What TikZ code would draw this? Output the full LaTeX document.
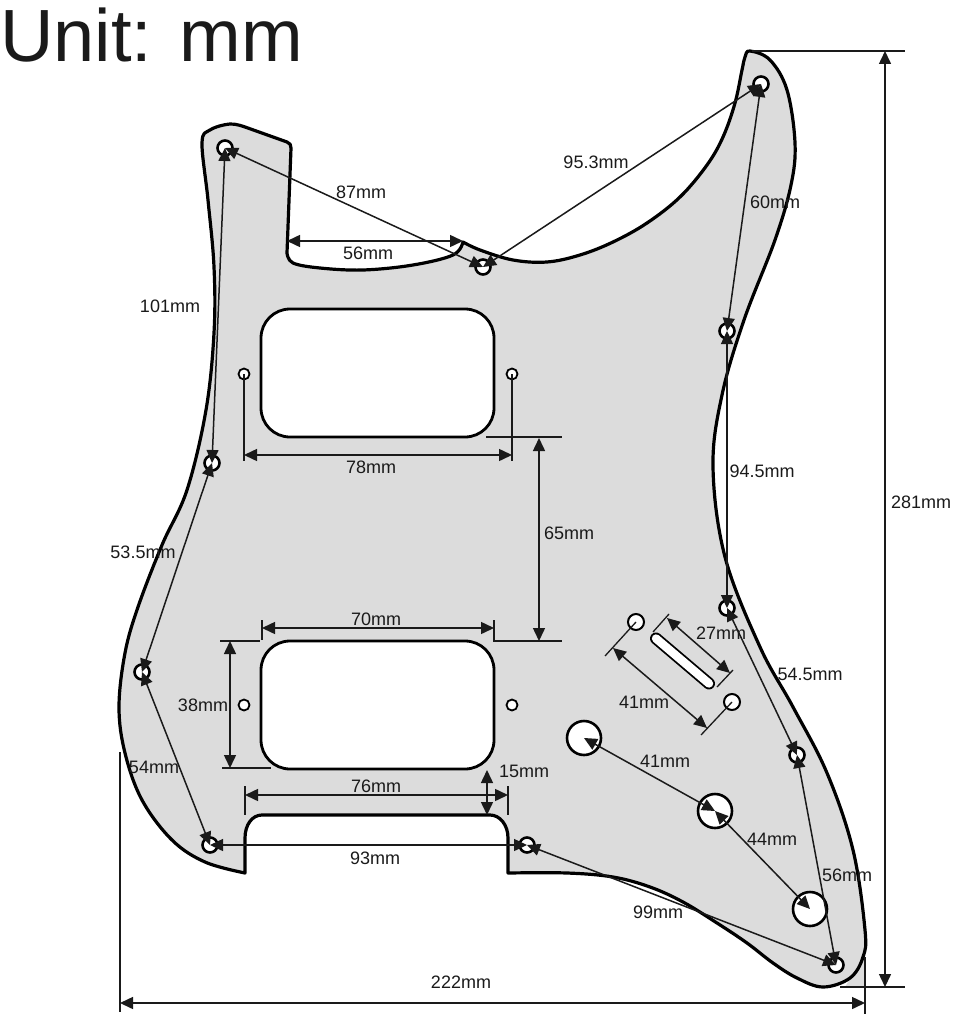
\documentclass[tikz,border=0pt]{standalone}
\usepackage{fontspec}
\setmainfont{Liberation Sans}
\usetikzlibrary{arrows.meta}
\definecolor{plate}{HTML}{DCDCDC}
\definecolor{ink}{HTML}{1A1A1A}
\tikzset{
  outline/.style={draw=black,line width=3.2pt,fill=plate,line join=round},
  window/.style={draw=black,line width=2.8pt,fill=white},
  screw/.style={circle,draw=black,line width=2.6pt,fill=white,inner sep=0pt,minimum size=15pt},
  minihole/.style={circle,draw=black,line width=1.8pt,fill=white,inner sep=0pt,minimum size=11pt},
  pothole/.style={circle,draw=black,line width=2pt,fill=white,inner sep=0pt,minimum size=16pt},
  knob/.style={circle,draw=black,line width=2.6pt,fill=white,inner sep=0pt,minimum size=34pt},
  dim/.style={draw=ink,line width=1.5pt,{Triangle[length=13pt,width=12pt]}-{Triangle[length=13pt,width=12pt]}},
  ext/.style={draw=ink,line width=1.3pt},
  lab/.style={text=ink,font=\fontsize{18}{20}\selectfont,inner sep=0pt},
}
\begin{document}
\begin{tikzpicture}[x=1pt,y=-1pt]
\useasboundingbox (0,0) rectangle (953,1016);
\fill[white] (0,0) rectangle (953,1016);
\node[anchor=west,inner sep=0pt,text=ink,font=\fontsize{74}{80}\selectfont] (title) at (0,35) {Unit: mm};
% small grey corner beyond the outline
\fill[plate] (845,987) -- (865,987) -- (865,955) -- cycle;
% plate
\path[outline]
  plot[smooth,tension=.6] coordinates {(463,242) (480,250) (513,260) (547,262) (580,255) (613,242) (647,223) (680,197) (707,165) (723,137) (735,103) (742,70) (745,57) (750,51) (770,60) (787,90) (795,143) (791,185) (775,240) (744,320) (722,395) (713,467) (725,557) (760,647) (793,707) (827,773) (853,850) (865,930) (863,957) (850,978) (823,987) (797,978) (773,963) (747,943) (717,923) (683,902) (650,887) (613,877) (567,873) (508,873)}
  -- (508,838) .. controls (508,825) and (500,815) .. (490,815)
  -- (262,815) .. controls (252,815) and (245,825) .. (245,838)
  -- (245,873)
  -- plot[smooth,tension=.6] coordinates {(245,873) (205,862) (172,840) (142,800) (125,753) (119,707) (125,653) (138,607) (162,545) (187,490) (206,410) (214,333) (214,267) (208,200) (202,143) (210,130) (230,124) (245,127)}
  -- (287,142) .. controls (290,143) and (291,145) .. (291,148)
  -- (287,253)
  -- plot[smooth,tension=.6] coordinates {(287,253) (293,263) (320,268) (363,270) (413,265) (453,255) (463,242)}
  -- cycle;
% pickup windows
\draw[window,rounded corners=29pt] (261,309) rectangle (494,437);
\draw[window,rounded corners=29pt] (261,641) rectangle (494,769);
% slot
\coordinate (slotA) at (656,638.5);
\coordinate (slotB) at (709,683.5);
\draw[line width=12pt,line cap=round,draw=black] (slotA) -- (slotB);
\draw[line width=8.4pt,line cap=round,draw=white] (slotA) -- (slotB);
% holes
\node[screw] (s1) at (225,148) {};
\node[screw] (s2) at (483,267) {};
\node[screw] (s3) at (761,84) {};
\node[screw] (s4) at (727,331) {};
\node[screw] (s5) at (212,463) {};
\node[screw] (s6) at (727,608) {};
\node[screw] (s7) at (142,672) {};
\node[screw] (s8) at (797,755) {};
\node[screw] (s9) at (210,845) {};
\node[screw] (s10) at (527,845) {};
\node[screw] (s11) at (836,965) {};
\node[minihole] (m1) at (244,374) {};
\node[minihole] (m2) at (512,374) {};
\node[minihole] (m3) at (244,705) {};
\node[minihole] (m4) at (512,705) {};
\node[pothole] (m5) at (636,622) {};
\node[pothole] (m6) at (732,702) {};
\node[knob] (k1) at (584,738) {};
\node[knob] (k2) at (715,811) {};
\node[knob] (k3) at (810,909) {};
% helper points
\foreach \n/\x/\y in {
  a1/287/241, a2/463/241,
  b1/244/455, b2/512/455, b3/244/461, b4/512/461,
  c1/539/438, c2/539/641, c3/486/437, c4/562/437, c5/493/641, c6/562/641,
  d1/262/628, d2/494/628, d3/262/620, d4/262/640, d5/494/620, d6/494/640,
  e1/230/641, e2/230/768, e3/220/641, e4/260/641, e5/222/768, e6/271/768,
  f1/245/795, f2/508/795, f3/245/786, f4/245/815, f5/508/786, f6/508/815,
  g1/487/770, g2/487/815,
  h1/120/1003, h2/865/1003, h3/120/752, h4/120/1012, h5/865/957, h6/865/1014,
  i1/885/51, i2/885/987, i3/752/51, i4/905/51, i5/840/987, i6/905/987,
  j1/667/618, j2/730/673, j3/669/614, j4/653/632, j5/733/670, j6/717/687,
  l1/613/648, l2/707/728, l3/605/656, l4/701/735}
  {\coordinate (\n) at (\x,\y);}
% extension lines
\draw[ext] (m1.center) -- (b3);
\draw[ext] (m2.center) -- (b4);
\draw[ext] (c3) -- (c4);
\draw[ext] (c5) -- (c6);
\draw[ext] (d3) -- (d4);
\draw[ext] (d5) -- (d6);
\draw[ext] (e3) -- (e4);
\draw[ext] (e5) -- (e6);
\draw[ext] (f3) -- (f4);
\draw[ext] (f5) -- (f6);
\draw[ext] (h3) -- (h4);
\draw[ext] (h5) -- (h6);
\draw[ext] (i3) -- (i4);
\draw[ext] (i5) -- (i6);
\draw[ext] (j3) -- (j4);
\draw[ext] (j5) -- (j6);
\draw[ext] (l3) -- (m5.center);
\draw[ext] (l4) -- (m6.center);
% dimension lines
\draw[dim] (s1.center) -- (s5.center);
\draw[dim] (s1.center) -- (s2.center);
\draw[dim] (s2.center) -- (s3.center);
\draw[dim] (s3.center) -- (s4.center);
\draw[dim] (s4.center) -- (s6.center);
\draw[dim] (s6.center) -- (s8.center);
\draw[dim] (s8.center) -- (s11.center);
\draw[dim] (s10.center) -- (s11.center);
\draw[dim] (s9.center) -- (s10.center);
\draw[dim] (s7.center) -- (s9.center);
\draw[dim] (s5.center) -- (s7.center);
\draw[dim] (k1.center) -- (k2.center);
\draw[dim] (k2.center) -- (k3.center);
\draw[dim] (a1) -- (a2);
\draw[dim] (b1) -- (b2);
\draw[dim] (c1) -- (c2);
\draw[dim] (d1) -- (d2);
\draw[dim] (e1) -- (e2);
\draw[dim] (f1) -- (f2);
\draw[dim] (g1) -- (g2);
\draw[dim] (h1) -- (h2);
\draw[dim] (i1) -- (i2);
\draw[dim] (j1) -- (j2);
\draw[dim] (l1) -- (l2);
% labels
\node[lab] (t1) at (361,192) {87mm};
\node[lab] (t2) at (368,253) {56mm};
\node[lab] (t3) at (596,162) {95.3mm};
\node[lab] (t4) at (775,202) {60mm};
\node[lab] (t5) at (170,306) {101mm};
\node[lab] (t6) at (371,467) {78mm};
\node[lab] (t7) at (762,471) {94.5mm};
\node[lab] (t8) at (921,502) {281mm};
\node[lab] (t9) at (569,533) {65mm};
\node[lab] (t10) at (143,552) {53.5mm};
\node[lab] (t11) at (376,619) {70mm};
\node[lab] (t12) at (721,633) {27mm};
\node[lab] (t13) at (810,674) {54.5mm};
\node[lab] (t14) at (644,702) {41mm};
\node[lab] (t15) at (203,705) {38mm};
\node[lab] (t16) at (665,761) {41mm};
\node[lab] (t17) at (154,767) {54mm};
\node[lab] (t18) at (376,786) {76mm};
\node[lab] (t19) at (524,771) {15mm};
\node[lab] (t20) at (772,839) {44mm};
\node[lab] (t21) at (847,875) {56mm};
\node[lab] (t22) at (375,858) {93mm};
\node[lab] (t23) at (658,912) {99mm};
\node[lab] (t24) at (461,982) {222mm};
\end{tikzpicture}
\end{document}
